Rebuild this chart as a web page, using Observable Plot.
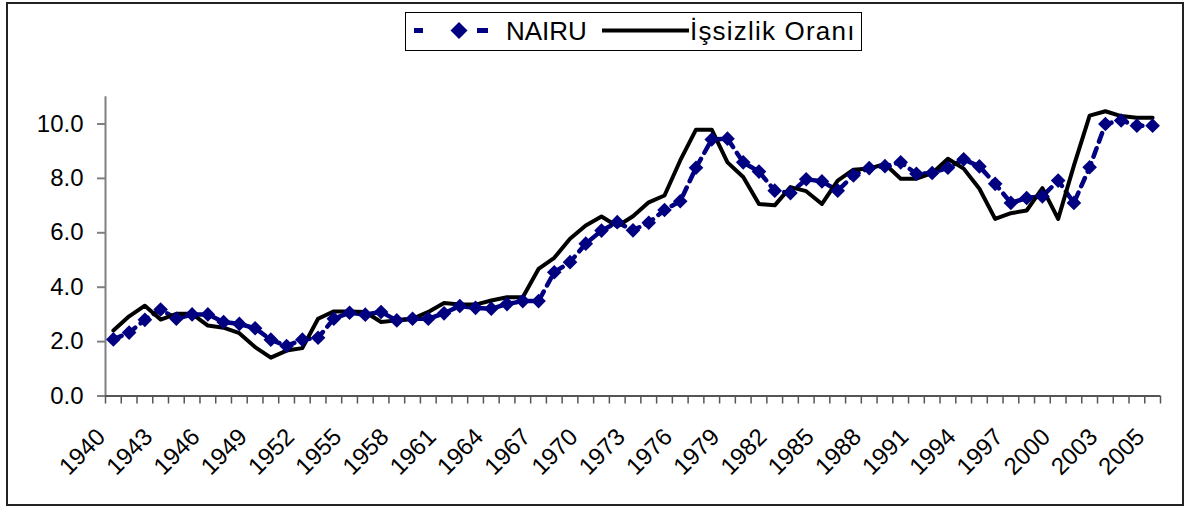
<!DOCTYPE html>
<html><head><meta charset="utf-8">
<script src="https://cdn.jsdelivr.net/npm/d3@7"></script>
<script src="https://cdn.jsdelivr.net/npm/@observablehq/plot@0.6"></script>
<style>
body{margin:0;background:#fff;font-family:"Liberation Sans",Arial,sans-serif;}
#wrap{position:relative;width:1190px;height:509px;overflow:hidden;background:#fff}
#frame{position:absolute;left:6px;top:2px;width:1178px;height:504px;border:2px solid #222;box-sizing:border-box;pointer-events:none}
#legend{position:absolute;left:405px;top:12px;width:457px;height:39px;border:1.5px solid #000;box-sizing:border-box;font-size:26px;background:#fff}
#legend .it{position:absolute;top:0;height:36px;line-height:36px;white-space:nowrap}
#chart{position:absolute;left:0;top:60px}
</style></head>
<body>
<div id="wrap">
  <div id="chart"></div>
  <div id="legend">
    <svg class="it" style="left:8px" width="82" height="36">
      <rect x="0" y="15" width="9" height="5" fill="#000080"/>
      <path d="M45,9 L53.5,17.5 L45,26 L36.5,17.5 Z" fill="#000080"/>
      <rect x="63" y="15" width="11" height="5" fill="#000080"/>
    </svg>
    <span class="it" style="left:100px">NAIRU</span>
    <svg class="it" style="left:196px" width="88" height="36">
      <line x1="0" x2="87" y1="17.5" y2="17.5" stroke="#000" stroke-width="4"/>
    </svg>
    <span class="it" style="left:284px;letter-spacing:1.2px">İşsizlik Oranı</span>
  </div>
  <div id="frame"></div>
</div>
<script>
// category index (one per observation, 67 observations)
const period = [0,1,2,3,4,5,6,7,8,9,10,11,12,13,14,15,16,17,18,19,20,21,22,23,24,25,26,27,28,29,30,31,32,33,34,35,36,37,38,39,40,41,42,43,44,45,46,47,48,49,50,51,52,53,54,55,56,57,58,59,60,61,62,63,64,65,66];
// NAIRU series
const nairu = [2.08,2.33,2.80,3.18,2.84,3.00,3.00,2.72,2.65,2.49,2.07,1.84,2.07,2.14,2.84,3.06,2.99,3.09,2.78,2.84,2.84,3.04,3.31,3.24,3.21,3.38,3.49,3.49,4.55,4.92,5.60,6.08,6.39,6.09,6.37,6.84,7.16,8.39,9.43,9.46,8.59,8.25,7.55,7.46,7.97,7.89,7.55,8.11,8.38,8.45,8.59,8.17,8.20,8.39,8.70,8.44,7.80,7.10,7.28,7.34,7.92,7.10,8.41,10.00,10.13,9.94,9.94];
// İşsizlik Oranı series
const issizlik = [2.41,2.93,3.32,2.81,3.02,3.02,2.59,2.51,2.31,1.80,1.41,1.67,1.76,2.84,3.11,3.11,3.09,2.72,2.78,2.84,3.09,3.42,3.36,3.36,3.51,3.63,3.63,4.67,5.08,5.78,6.27,6.60,6.24,6.61,7.12,7.37,8.66,9.79,9.79,8.59,8.05,7.06,7.01,7.68,7.53,7.06,7.92,8.32,8.36,8.53,7.99,7.99,8.19,8.72,8.36,7.62,6.51,6.72,6.82,7.64,6.51,8.47,10.31,10.47,10.29,10.23,10.23];
// x tick labels and the categories they sit under
const labelIndex = [0,3,6,9,12,15,18,21,24,27,30,33,36,39,42,45,48,51,54,57,60,63,66];
const yearLabels = ["1940","1943","1946","1949","1952","1955","1958","1961","1964","1967","1970","1973","1976","1979","1982","1985","1988","1991","1994","1997","2000","2003","2005"];
const yTicks = [0,2,4,6,8,10];

const data = period.map((p, k) => ({p, nairu: nairu[k], issizlik: issizlik[k]}));
const labelMap = new Map(labelIndex.map((p, k) => [p, yearLabels[k]]));
const boundaries = [-0.5, ...period.map(p => p + 0.5)];

const chart = Plot.plot({
  width: 1190, height: 449,
  marginLeft: 105, marginRight: 30, marginTop: 36.3, marginBottom: 113.5,
  x: {type: "linear", domain: [-0.5, 66.5]},
  y: {domain: [0, 11]},
  style: {fontFamily: "Liberation Sans, Arial, sans-serif", fontSize: "24px", color: "#000", background: "transparent", overflow: "visible"},
  marks: [
    Plot.ruleX([-0.5], {stroke: "#808080", strokeWidth: 2}),
    Plot.ruleY([0], {stroke: "#555", strokeWidth: 2}),
    Plot.axisY(yTicks, {tickSize: 8, tickPadding: 14, stroke: "#808080", strokeWidth: 2, tickFormat: d3.format(".1f"), label: null, fill: "#000"}),
    Plot.axisX(boundaries, {tickSize: 8, stroke: "#555", strokeWidth: 1.5, tickFormat: () => "", label: null}),
    Plot.axisX(labelIndex, {tickSize: 0, tickPadding: 37, tickRotate: -45, dx: -12, tickFormat: d => labelMap.get(d), label: null, fill: "#000"}),
    Plot.line(data, {x: "p", y: "nairu", stroke: "#000080", strokeWidth: 4.5, strokeDasharray: "9,7"}),
    Plot.line(data, {x: "p", y: "issizlik", stroke: "#000", strokeWidth: 4}),
    Plot.dot(data, {x: "p", y: "nairu", symbol: "diamond2", r: 6.6, fill: "#000080", stroke: "none"})
  ]
});
document.getElementById("chart").appendChild(chart);
</script>
</body></html>
